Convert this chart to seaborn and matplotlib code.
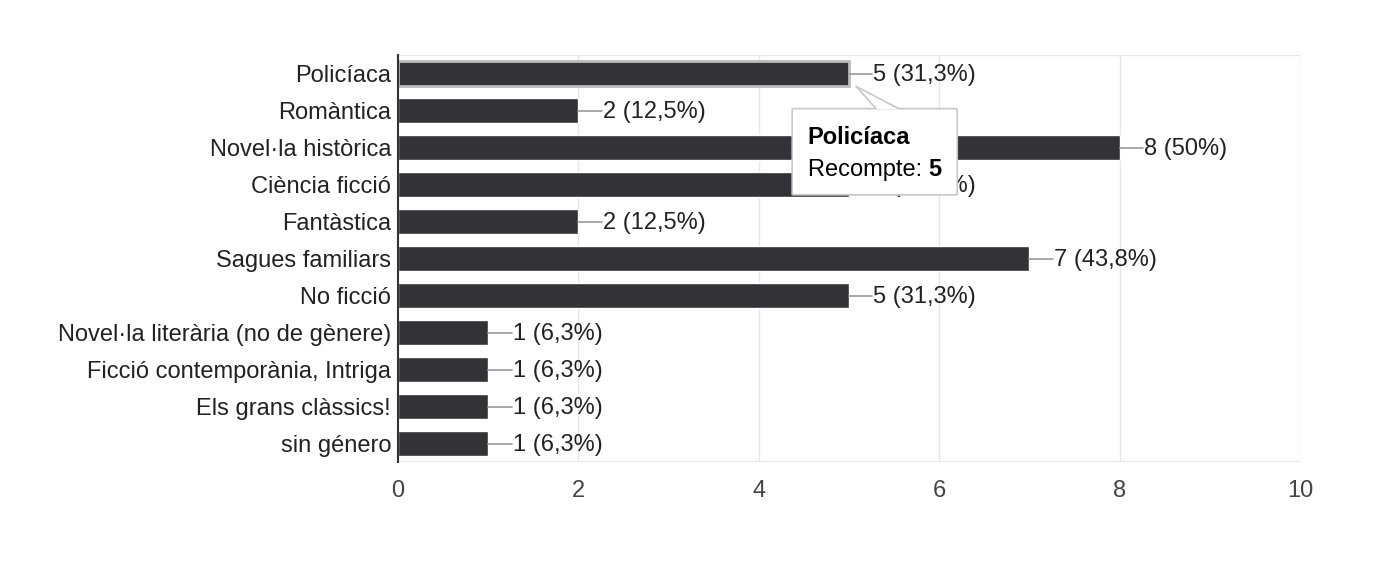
import matplotlib
matplotlib.use("Agg")
import matplotlib.pyplot as plt
import seaborn as sns
import pandas as pd
from matplotlib.patches import FancyBboxPatch, Polygon

categories = ["Policíaca", "Romàntica", "Novel·la històrica", "Ciència ficció",
              "Fantàstica", "Sagues familiars", "No ficció",
              "Novel·la literària (no de gènere)", "Ficció contemporània, Intriga",
              "Els grans clàssics!", "sin género"]
counts = [5, 2, 8, 5, 2, 7, 5, 1, 1, 1, 1]
percents = ["31,3", "12,5", "50", "31,3", "12,5", "43,8", "31,3", "6,3", "6,3", "6,3", "6,3"]
xticks = [0, 2, 4, 6, 8, 10]

sns.set_style("white")
plt.rcParams['font.family'] = ['Liberation Sans', 'DejaVu Sans']

FS = 17

df = pd.DataFrame({"cat": categories, "n": counts})

fig = plt.figure(figsize=(13.96, 5.72), dpi=100)
ax = fig.add_axes([398/1396, 1-462/572, (1300-398)/1396, (462-55)/572])

sns.barplot(data=df, y="cat", x="n", color="#333337", width=0.65, ax=ax,
            saturation=1, orient="h")

ax.set_xlim(0, 10)
ax.set_ylim(10.5, -0.5)
ax.set_xticks(xticks)
ax.set_xticklabels([str(t) for t in xticks], fontsize=FS, color="#444444")
ax.set_xlabel("")
ax.set_ylabel("")
ax.tick_params(axis="y", labelsize=FS, labelcolor="#222222", length=0, pad=5)
ax.tick_params(axis="x", length=0, pad=13)

for t in xticks[1:]:
    ax.axvline(t, color="#e6e6e6", lw=1, zorder=0)
for s in ["top", "right", "bottom"]:
    ax.spines[s].set_visible(False)
ax.axhline(-0.5, color="#e6e6e6", lw=1, zorder=0)
ax.axhline(10.5, color="#e6e6e6", lw=1.5, zorder=0)
ax.spines["left"].set_color("#333333")
ax.spines["left"].set_linewidth(1.5)

# selection highlight on the first bar
bar0 = ax.patches[0]
bar0.set_edgecolor("#bbbbbb")
bar0.set_linewidth(2)

for i, (v, p) in enumerate(zip(counts, percents)):
    ax.plot([v, v + 0.26], [i, i], color="#999999", lw=1.2, zorder=3)
    ax.text(v + 0.27, i + 0.05, f"{v} ({p}%)", va="center", ha="left",
            fontsize=FS, color="#222222")

# tooltip
box = FancyBboxPatch((4.37, 0.95), 1.83, 2.33, boxstyle="round,pad=0,rounding_size=0.03",
                     facecolor="white", edgecolor="#c8c8c8", lw=1.2, zorder=5,
                     mutation_aspect=0.4)
ax.add_patch(box)
tri = Polygon([(5.08, 0.35), (5.3, 0.97), (5.55, 0.97)], closed=True,
              facecolor="white", edgecolor="none", zorder=6)
ax.add_patch(tri)
ax.plot([5.08, 5.3], [0.35, 0.95], color="#c8c8c8", lw=1.2, zorder=6)
ax.plot([5.08, 5.55], [0.35, 0.95], color="#c8c8c8", lw=1.2, zorder=6)
ax.text(4.54, 1.72, "Policíaca", fontsize=FS, fontweight="bold", color="#000000",
        va="center", ha="left", zorder=7)
t1 = ax.text(4.54, 2.6, "Recompte: ", fontsize=FS, color="#000000",
             va="center", ha="left", zorder=7)
fig.canvas.draw()
bb = t1.get_window_extent()
x_end = ax.transData.inverted().transform((bb.x1, bb.y0))[0]
ax.text(x_end, 2.6, "5", fontsize=FS, fontweight="bold", color="#000000",
        va="center", ha="left", zorder=7)

fig.savefig("out.png", dpi=100, facecolor="white")
